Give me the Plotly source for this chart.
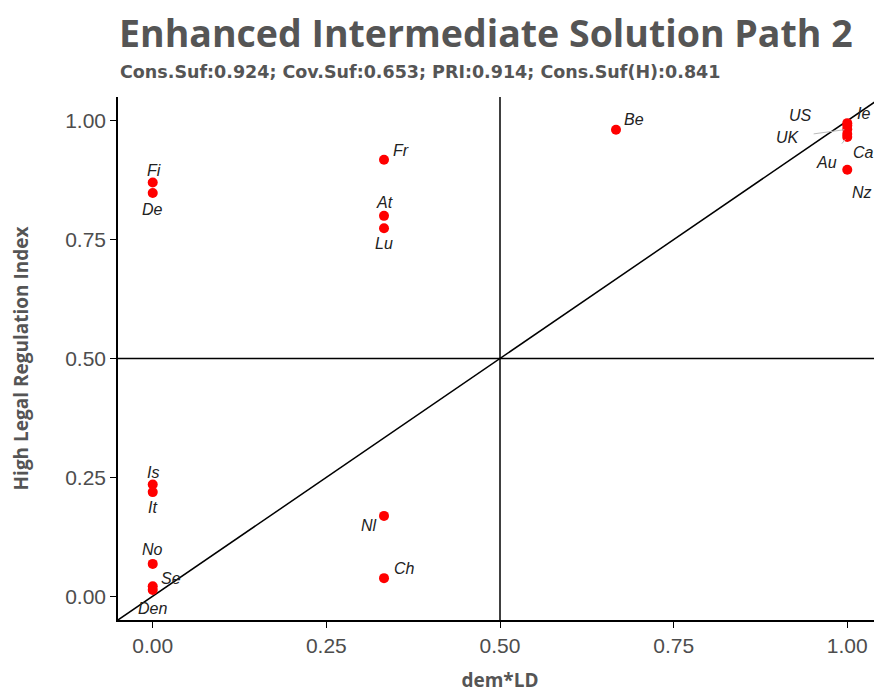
import plotly.graph_objects as go

# ---- data ----
cases = ["Fi", "De", "Fr", "At", "Lu", "Be", "US", "Ie", "UK", "Ca", "Au", "Nz",
         "Is", "It", "No", "Se", "Den", "Nl", "Ch"]
x_vals = [0.0, 0.0, 0.333, 0.333, 0.333, 0.667, 1.0, 1.0, 1.0, 1.0, 1.0, 1.0,
          0.0, 0.0, 0.0, 0.0, 0.0, 0.333, 0.333]
y_vals = [0.870, 0.848, 0.918, 0.800, 0.774, 0.981, 0.990, 0.995, 0.982, 0.972, 0.966, 0.897,
          0.235, 0.219, 0.068, 0.021, 0.013, 0.169, 0.038]
x_ticks = [0.0, 0.25, 0.5, 0.75, 1.0]
x_tick_labels = ["0.00", "0.25", "0.50", "0.75", "1.00"]
y_ticks = [0.0, 0.25, 0.5, 0.75, 1.0]
y_tick_labels = ["0.00", "0.25", "0.50", "0.75", "1.00"]
title_text = "Enhanced Intermediate Solution Path 2"
subtitle_text = "Cons.Suf:0.924; Cov.Suf:0.653; PRI:0.914; Cons.Suf(H):0.841"
x_title = "dem*LD"
y_title = "High Legal Regulation Index"

# label offsets in pixels (dx, dy up-positive), and whether a leader line is drawn
label_offsets = {
    "Fi": (1, 12, False), "De": (0, -16, False), "Fr": (17, 9, False),
    "At": (0, 13, False), "Lu": (0, -15, False), "Be": (18, 10, False),
    "US": (-47, 10, False), "Ie": (16, 10, False), "UK": (-59, -8, True),
    "Ca": (16, -18, False), "Au": (-21, -26, True), "Nz": (15, -23, False),
    "Is": (0, 12, False), "It": (0, -15, False), "No": (0, 14, False),
    "Se": (18, 8, False), "Den": (0, -18, False), "Nl": (-15, -10, False),
    "Ch": (20, 10, False),
}

# page has an 8px body margin, so the figure is sized to fit the window from (8, 8)
W, H = 874, 685
ml, mr, mt, mb = 110, 0, 89, 73
PH = H - mt - mb


def paper_y(ypix_page):
    return (H - mb - (ypix_page - 8)) / PH


fig = go.Figure()

rng = [-0.05, 1.05]
# diagonal
fig.add_trace(go.Scatter(x=rng, y=rng, mode="lines",
                         line=dict(color="black", width=1.5), hoverinfo="skip", showlegend=False))
# points
fig.add_trace(go.Scatter(x=x_vals, y=y_vals, mode="markers",
                         marker=dict(color="#ff0000", size=10, line=dict(width=0)),
                         text=cases, showlegend=False))

fig.add_hline(y=0.5, line=dict(color="black", width=1.5))
fig.add_vline(x=0.5, line=dict(color="black", width=1.5))

lab_font = dict(family="Liberation Sans, Arial", size=16, color="#222222")
annotations = []
for name, xv, yv in zip(cases, x_vals, y_vals):
    dx, dy, leader = label_offsets[name]
    if leader:
        annotations.append(dict(
            x=xv, y=yv, xref="x", yref="y", text=f"<i>{name}</i>",
            showarrow=True, ax=dx, ay=-dy, arrowhead=0, arrowwidth=1,
            arrowcolor="#bbbbbb", standoff=3, startstandoff=12,
            font=lab_font))
    else:
        annotations.append(dict(
            x=xv, y=yv, xref="x", yref="y", text=f"<i>{name}</i>",
            showarrow=False, xshift=dx, yshift=dy, font=lab_font))

annotations.append(dict(
    x=0, y=paper_y(32), xref="paper", yref="paper", xanchor="left", yanchor="middle",
    text=f"<b>{title_text}</b>", showarrow=False, borderpad=0,
    font=dict(family="Open Sans", size=37.5, color="#555555")))
annotations.append(dict(
    x=0, y=paper_y(72), xref="paper", yref="paper", xanchor="left", yanchor="middle",
    text=f"<b>{subtitle_text}</b>", showarrow=False,
    font=dict(family="DejaVu Sans", size=17.5, color="#555555")))

fig.update_layout(
    width=W, height=H,
    margin=dict(l=ml, r=mr, t=mt, b=mb, autoexpand=False),
    paper_bgcolor="white", plot_bgcolor="white",
    annotations=annotations,
    showlegend=False,
)
fig.update_xaxes(range=rng, tickvals=x_ticks, ticktext=x_tick_labels, automargin=False,
                 showgrid=False, zeroline=False, showline=True, linecolor="black", linewidth=1.5,
                 ticks="outside", ticklen=6, tickcolor="black",
                 tickfont=dict(family="Liberation Sans, Arial", size=21, color="#4d4d4d"),
                 title=dict(text=f"<b>{x_title}</b>", standoff=18,
                            font=dict(family="Open Sans", size=19, color="#555555")))
fig.update_yaxes(range=rng, tickvals=y_ticks, ticktext=y_tick_labels, automargin=False,
                 showgrid=False, zeroline=False, showline=True, linecolor="black", linewidth=1.5,
                 ticks="outside", ticklen=6, tickcolor="black",
                 tickfont=dict(family="Liberation Sans, Arial", size=21, color="#4d4d4d"),
                 title=dict(text=f"<b>{y_title}</b>", standoff=32,
                            font=dict(family="Open Sans", size=19, color="#555555")))

fig.write_html("out.html")
